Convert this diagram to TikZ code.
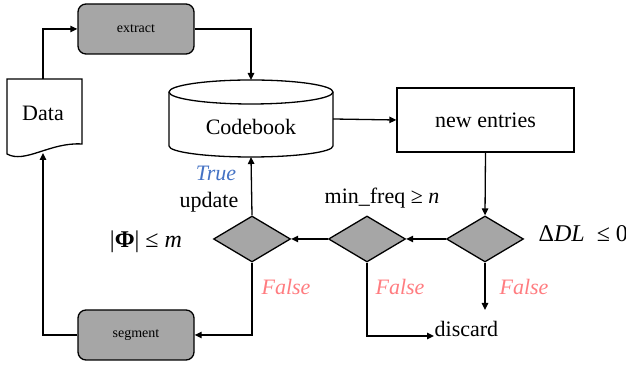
\documentclass[tikz,border=0pt]{standalone}
\usepackage{fontspec}
\setmainfont{Liberation Serif}
\usetikzlibrary{arrows.meta,shapes.geometric}
\definecolor{boxgray}{HTML}{A6A6A6}
\definecolor{trueblue}{HTML}{4472C4}
\definecolor{falsered}{HTML}{FF7C80}
\begin{document}
\begin{tikzpicture}[x=0.5pt,y=0.5pt,
  line width=0.65pt,
  arr/.style={-{Triangle[length=3.5pt,width=3.2pt]}},
  graybox/.style={draw,fill=boxgray,rounded corners=4pt,minimum width=58pt,minimum height=25pt,font=\fontsize{7}{8}\selectfont,inner sep=0pt},
  decision/.style={draw,fill=boxgray,diamond,minimum width=38.5pt,minimum height=23pt,inner sep=0pt,aspect=1.67},
  lbl/.style={font=\fontsize{11}{13}\selectfont,inner sep=0pt},
  mathlbl/.style={font=\fontsize{12}{14}\selectfont,inner sep=0pt},
  falselbl/.style={lbl,text=falsered,font=\fontsize{11}{13}\selectfont\itshape},
  truelbl/.style={lbl,text=trueblue,font=\fontsize{11}{13}\selectfont\itshape}]
\useasboundingbox (0,0) rectangle (626,368);
% boxes
\node[graybox] (extract) at (136,339) {extract};
\node[graybox] (seg) at (136,33) {segment};
\node[draw,minimum width=88.5pt,minimum height=32pt,inner sep=0pt,font=\fontsize{11}{13}\selectfont] (ne) at (485.5,248) {new entries};
% data document
\draw[fill=white] (7,289) -- (82,289) -- (82,224) .. controls (50,226) and (25,204) .. (7,214) -- cycle;
\node[lbl] (data) at (43,255) {Data};
\coordinate (datat) at (43,289);
\coordinate (datab) at (43,215);
% cylinder
\draw[fill=white] (169,276) -- (169,222) arc (180:360:82 and 11) -- (333,276) arc (0:180:82 and 12) -- cycle;
\draw (169,276) arc (180:360:82 and 12);
\node[lbl] (cb) at (251,241) {Codebook};
\coordinate (cbtop) at (251,288);
\coordinate (cbbot) at (251,211);
\coordinate (cbright) at (333,249);
% decisions
\node[decision] (d1) at (485,129) {};
\node[decision] (d2) at (367,129) {};
\node[decision] (d3) at (252,129) {};
% labels
\node[mathlbl,anchor=west] (dllbl) at (538,134) {Δ\textit{DL}\ \ ≤ 0};
\node[lbl] (mflbl) at (382,170) {min\_freq ≥ \textit{n}};
\node[mathlbl] (philbl) at (146,126) {|\textbf{Φ}| ≤ \textit{m}};
\node[truelbl] (truel) at (216,195) {True};
\node[lbl] (upd) at (209,166) {update};
\node[falselbl] (f1) at (524,81) {False};
\node[falselbl] (f2) at (400,81) {False};
\node[falselbl] (f3) at (286,81) {False};
\node[lbl,anchor=west] (discard) at (434,39) {discard};
\coordinate (dend) at (485,58);
% connectors
\draw[arr] (datat) |- (extract.west);
\draw[arr] (extract.east) -| (cbtop);
\draw[arr] (cbright) -- (ne.west);
\draw[arr] (ne.south) -- (d1.north);
\draw[arr] (d1.west) -- (d2.east);
\draw[arr] (d2.west) -- (d3.east);
\draw[arr] (d3.north) -- (cbbot);
\draw[arr] (d1.south) -- (dend);
\draw[arr] (d2.south) |- ([yshift=-3.5pt]discard.west);
\draw[arr] (d3.south) |- (seg.east);
\draw[arr] (seg.west) -| (datab);
\end{tikzpicture}
\end{document}
